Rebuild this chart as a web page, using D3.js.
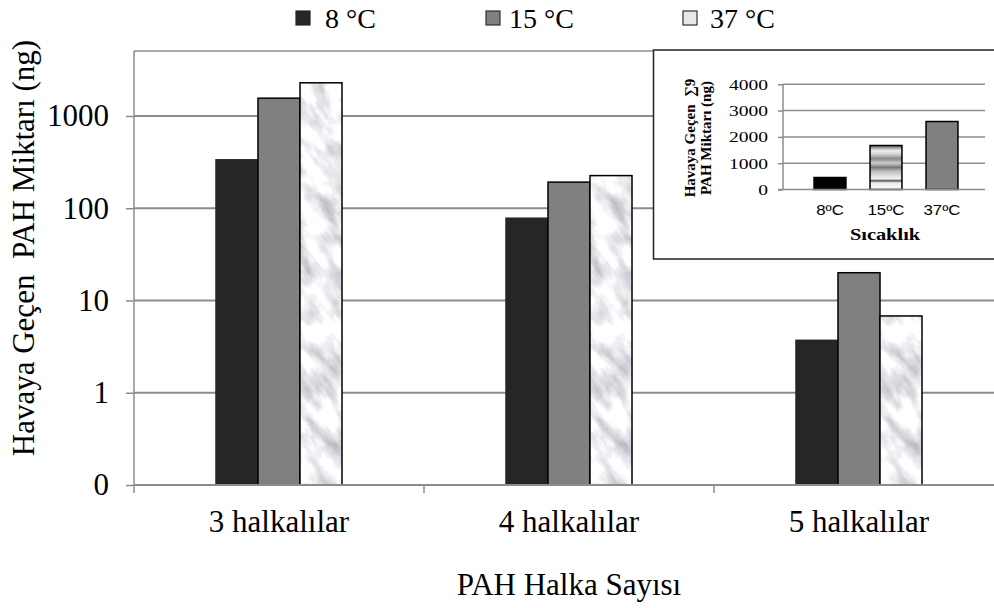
<!DOCTYPE html>
<html>
<head>
<meta charset="utf-8">
<script src="https://cdn.jsdelivr.net/npm/d3@7"></script>
<style>
  body { margin: 0; background: #fff; }
  svg { display: block; }
</style>
</head>
<body>
<div id="chart"></div>
<script>
// main chart data
var categories = ["3 halkalılar", "4 halkalılar", "5 halkalılar"];
var seriesNames = ["8 °C", "15 °C", "37 °C"];
var values8 = [335, 78, 3.7];
var values15 = [1560, 192, 20];
var values37 = [2290, 226, 6.8];
var yTicks = [0.1, 1, 10, 100, 1000];
var yTickLabels = ["0", "1", "10", "100", "1000"];

// inset data
var insetCategories = ["8ºC", "15ºC", "37ºC"];
var insetValues = [456, 1673, 2585];
var insetTicks = [0, 1000, 2000, 3000, 4000];

var W = 994, H = 608;
var serif = "'Liberation Serif', 'Times New Roman', serif";

var svg = d3.select("#chart").append("svg")
  .attr("width", W).attr("height", H);

var defs = svg.append("defs");

// marble texture for the 37 °C bars
var marble = defs.append("filter").attr("id", "marbleFx")
  .attr("x", 0).attr("y", 0).attr("width", 1).attr("height", 1)
  .attr("color-interpolation-filters", "sRGB");
marble.append("feTurbulence")
  .attr("type", "fractalNoise")
  .attr("baseFrequency", "0.07 0.03")
  .attr("numOctaves", 4).attr("seed", 11);
marble.append("feColorMatrix")
  .attr("type", "matrix")
  .attr("values", "0.55 0 0 0 0.66  0.55 0 0 0 0.66  0.5 0 0 0 0.7  0 0 0 0 1");
var pat = defs.append("pattern").attr("id", "marble")
  .attr("patternUnits", "userSpaceOnUse")
  .attr("patternTransform", "rotate(-35)")
  .attr("width", 600).attr("height", 600);
pat.append("rect").attr("width", 600).attr("height", 600)
  .attr("filter", "url(#marbleFx)");

// banded gradient for the inset 15 ºC bar
var grad = defs.append("linearGradient").attr("id", "bands")
  .attr("x1", 0).attr("y1", 0).attr("x2", 0).attr("y2", 1);
[[0, "#555"], [0.06, "#aaa"], [0.12, "#eee"], [0.2, "#d0d0d0"], [0.3, "#888"],
 [0.4, "#ccc"], [0.5, "#777"], [0.58, "#bbb"], [0.68, "#ddd"], [0.76, "#f4f4f4"],
 [0.8, "#555"], [0.85, "#eee"], [1, "#fafafa"]].forEach(function(s) {
  grad.append("stop").attr("offset", s[0]).attr("stop-color", s[1]);
});

// ---------- main chart ----------
var plotLeft = 134, plotTop = 51, plotBottom = 485;
var plotRight = plotLeft + 3 * 290;

var x0 = d3.scaleBand()
  .domain(categories)
  .range([plotLeft, plotRight]);

var x1 = d3.scaleBand()
  .domain(seriesNames)
  .range([x0.bandwidth() / 2 - 63, x0.bandwidth() / 2 + 63]);

var y = d3.scaleLog()
  .domain([0.1, 1000])
  .range([plotBottom, 116]);

// gridlines
svg.append("g")
  .selectAll("line")
  .data(yTicks.slice(1))
  .join("line")
  .attr("x1", plotLeft).attr("x2", W)
  .attr("y1", function(d) { return y(d); })
  .attr("y2", function(d) { return y(d); })
  .attr("stroke", "#8c8c8c").attr("stroke-width", 2);

// top border of plot area
svg.append("line")
  .attr("x1", plotLeft).attr("x2", W)
  .attr("y1", plotTop).attr("y2", plotTop)
  .attr("stroke", "#8c8c8c").attr("stroke-width", 1.5);

var rows = categories.map(function(c, i) {
  return { cat: c, vals: [values8[i], values15[i], values37[i]] };
});
var fills = ["#262626", "#808080", "url(#marble)"];
var strokes = ["#262626", "#000", "#000"];

var groups = svg.append("g")
  .selectAll("g")
  .data(rows)
  .join("g")
  .attr("transform", function(d) { return "translate(" + x0(d.cat) + ",0)"; });

groups.selectAll("rect")
  .data(function(d) { return d.vals.map(function(v, i) { return { v: v, i: i }; }); })
  .join("rect")
  .attr("x", function(d) { return x1(seriesNames[d.i]); })
  .attr("width", x1.bandwidth())
  .attr("y", function(d) { return y(d.v); })
  .attr("height", function(d) { return plotBottom - y(d.v); })
  .attr("fill", function(d) { return fills[d.i]; })
  .attr("stroke", function(d) { return strokes[d.i]; })
  .attr("stroke-width", 1.5);

// y axis
var yAxis = svg.append("g")
  .attr("transform", "translate(" + plotLeft + ",0)")
  .call(d3.axisLeft(y).tickValues(yTicks).tickSize(8).tickPadding(17)
    .tickFormat(function(d, i) { return yTickLabels[i]; }));
yAxis.select(".domain").attr("stroke", "#8c8c8c").attr("stroke-width", 1.5)
  .attr("d", "M0," + plotTop + "V" + plotBottom);
yAxis.selectAll(".tick line").attr("stroke", "#8c8c8c").attr("stroke-width", 1.5);
yAxis.selectAll("text").attr("font-family", serif).attr("font-size", 31).attr("fill", "#000");

// x axis
var xAxis = svg.append("g")
  .attr("transform", "translate(0," + plotBottom + ")")
  .call(d3.axisBottom(x0).tickSize(0).tickPadding(25));
xAxis.select(".domain").attr("stroke", "#8c8c8c").attr("stroke-width", 2)
  .attr("d", "M" + plotLeft + ",0H" + W);
xAxis.selectAll("text").attr("font-family", serif).attr("font-size", 31).attr("fill", "#000");
xAxis.selectAll(".sep")
  .data(categories)
  .join("line")
  .attr("class", "sep")
  .attr("x1", function(d) { return x0(d); })
  .attr("x2", function(d) { return x0(d); })
  .attr("y1", 0).attr("y2", 8)
  .attr("stroke", "#8c8c8c").attr("stroke-width", 1.5);

// axis titles
svg.append("text")
  .attr("x", (plotLeft + plotRight) / 2)
  .attr("y", 595)
  .attr("text-anchor", "middle")
  .attr("font-family", serif).attr("font-size", 31)
  .text("PAH Halka Sayısı");

svg.append("text")
  .attr("transform", "translate(34,248) rotate(-90)")
  .attr("text-anchor", "middle")
  .attr("font-family", serif).attr("font-size", 31)
  .attr("xml:space", "preserve")
  .text("Havaya Geçen  PAH Miktarı (ng)");

// legend
var legendX = [296, 486, 683];
var legendTextX = [29, 23, 27];
var legendFills = ["#262626", "#808080", "#e8e8ec"];
var legend = svg.append("g")
  .selectAll("g")
  .data(seriesNames)
  .join("g")
  .attr("transform", function(d, i) { return "translate(" + legendX[i] + ",11)"; });
legend.append("rect")
  .attr("width", 14).attr("height", 14)
  .attr("fill", function(d, i) { return legendFills[i]; })
  .attr("stroke", function(d, i) { return i === 0 ? "#262626" : "#333"; })
  .attr("stroke-width", 1.2);
legend.append("text")
  .attr("x", function(d, i) { return legendTextX[i]; })
  .attr("y", 17)
  .attr("font-family", serif).attr("font-size", 28)
  .text(function(d) { return d; });

// ---------- inset chart ----------
var inset = svg.append("g");
inset.append("rect")
  .attr("x", 653.5).attr("y", 50)
  .attr("width", 360).attr("height", 209)
  .attr("fill", "#fff")
  .attr("stroke", "#222").attr("stroke-width", 1.5);

var ix = d3.scaleBand()
  .domain(insetCategories)
  .range([802, 970])
  .paddingInner(0.43)
  .paddingOuter(0.215);

var iy = d3.scaleLinear()
  .domain([0, 4000])
  .range([189.5, 84.3]);

inset.append("g")
  .selectAll("line")
  .data(insetTicks.slice(1))
  .join("line")
  .attr("x1", 783).attr("x2", 985)
  .attr("y1", function(d) { return iy(d); })
  .attr("y2", function(d) { return iy(d); })
  .attr("stroke", "#8c8c8c").attr("stroke-width", 1.5);

var insetFills = ["#000", "url(#bands)", "#808080"];
inset.append("g")
  .selectAll("rect")
  .data(insetValues)
  .join("rect")
  .attr("x", function(d, i) { return ix(insetCategories[i]); })
  .attr("width", ix.bandwidth())
  .attr("y", function(d) { return iy(d); })
  .attr("height", function(d) { return iy(0) - iy(d); })
  .attr("fill", function(d, i) { return insetFills[i]; })
  .attr("stroke", "#000").attr("stroke-width", 1.5);

// the inset is a horizontally stretched picture, so its text is widened
var iyAxis = inset.append("g")
  .attr("transform", "translate(783,0)")
  .call(d3.axisLeft(iy).tickValues(insetTicks).tickSize(5).tickPadding(6.5)
    .tickFormat(d3.format("d")));
iyAxis.select(".domain").attr("stroke", "#8c8c8c").attr("stroke-width", 1.5)
  .attr("d", "M0," + iy(4000) + "V" + iy(0));
iyAxis.selectAll(".tick line").attr("stroke", "#8c8c8c").attr("stroke-width", 1.5);
iyAxis.selectAll("text").attr("font-family", serif).attr("font-size", 15).attr("fill", "#000")
  .attr("transform", "scale(1.3,1)");

var ixAxis = inset.append("g")
  .attr("transform", "translate(0," + iy(0) + ")")
  .call(d3.axisBottom(ix).tickSize(0).tickPadding(16));
ixAxis.select(".domain").attr("stroke", "#8c8c8c").attr("stroke-width", 1.5)
  .attr("d", "M778,0H985");
ixAxis.selectAll("text")
  .attr("font-family", "'Liberation Sans', Arial, sans-serif")
  .attr("font-size", 14).attr("fill", "#000")
  .attr("transform", "scale(1.2,1)");

inset.append("text")
  .attr("transform", "translate(885,240) scale(1.2,1)")
  .attr("text-anchor", "middle")
  .attr("font-family", serif).attr("font-size", 17).attr("font-weight", "bold")
  .text("Sıcaklık");

var ilab = inset.append("text")
  .attr("transform", "translate(0,138) rotate(-90)")
  .attr("text-anchor", "middle")
  .attr("font-family", serif).attr("font-size", 15).attr("font-weight", "bold")
  .attr("xml:space", "preserve");
ilab.append("tspan").attr("x", 0).attr("y", 695).text("Havaya Geçen  ∑9");
ilab.append("tspan").attr("x", 0).attr("y", 711).text("PAH Miktarı (ng)");
</script>
</body>
</html>
